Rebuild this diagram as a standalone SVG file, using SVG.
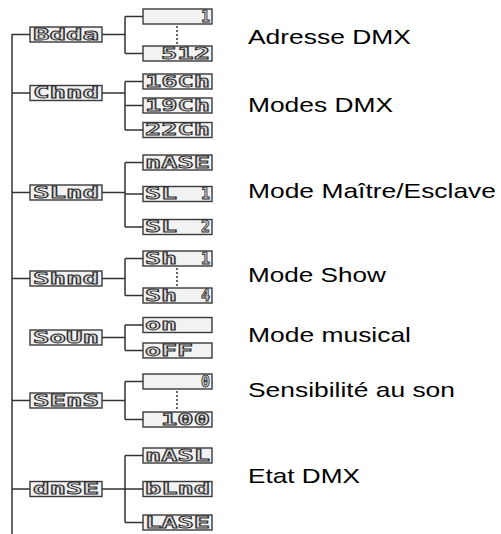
<svg xmlns="http://www.w3.org/2000/svg" width="501" height="534" viewBox="0 0 501 534">
<style>
.box{fill:#f2f2f2;stroke:#3a3a3a;stroke-width:1.4}
.lcd{font-family:"DejaVu Sans Mono",monospace;font-weight:bold;font-size:15px;fill:#dadada;stroke:#2e2e2e;stroke-width:0.85}
.ln{fill:none;stroke:#333;stroke-width:1.5}
.dot{fill:none;stroke:#333;stroke-width:1.5;stroke-dasharray:2 2}
.lbl{font-family:"Liberation Sans",Arial,sans-serif;font-size:21px;fill:#000}
</style>
<rect width="501" height="534" fill="#fff"/>
<g id="connectors">
<path class="ln" d="M12,34 V534"/>
<path class="ln" d="M12,34.5 H30 M12,93 H30 M12,192.5 H30 M12,278.5 H30 M12,400.5 H30 M12,489 H30"/>
<path class="ln" d="M102,34.5 H125 M125,16.5 V53.5 M125,16.5 H143 M125,53.5 H143"/>
<path class="ln" d="M102,93 H125 M125,81.5 V130 M125,81.5 H143 M125,105.5 H143 M125,130 H143"/>
<path class="ln" d="M102,192.5 H125 M125,162.5 V227 M125,162.5 H143 M125,194 H143 M125,227 H143"/>
<path class="ln" d="M102,278.5 H125 M125,258.5 V295.5 M125,258.5 H143 M125,295.5 H143"/>
<path class="ln" d="M102,337.5 H125 M125,325 V350.5 M125,325 H143 M125,350.5 H143"/>
<path class="ln" d="M102,400.5 H125 M125,381.5 V419.5 M125,381.5 H143 M125,419.5 H143"/>
<path class="ln" d="M102,489 H125 M125,455.5 V522.5 M125,455.5 H143 M125,489 H143 M125,522.5 H143"/>
<path class="dot" d="M177,26 V44 M177,268 V287 M177,391 V411"/>
</g>
<g id="addr"><rect class="box" x="30" y="27" width="72" height="15"/><text class="lcd" x="33" y="39.5" textLength="66" lengthAdjust="spacingAndGlyphs">Bdda</text></g>
<g id="chnd"><rect class="box" x="30" y="85.5" width="72" height="15"/><text class="lcd" x="33" y="98" textLength="66" lengthAdjust="spacingAndGlyphs">Chnd</text></g>
<g id="slnd"><rect class="box" x="30" y="185" width="72" height="15"/><text class="lcd" x="33" y="197.5" textLength="66" lengthAdjust="spacingAndGlyphs">SLnd</text></g>
<g id="shnd"><rect class="box" x="30" y="271" width="72" height="15"/><text class="lcd" x="33" y="283.5" textLength="66" lengthAdjust="spacingAndGlyphs">Shnd</text></g>
<g id="soun"><rect class="box" x="30" y="330" width="72" height="15"/><text class="lcd" x="33" y="342.5" textLength="66" lengthAdjust="spacingAndGlyphs">SoUn</text></g>
<g id="sens"><rect class="box" x="30" y="393" width="72" height="15"/><text class="lcd" x="33" y="405.5" textLength="66" lengthAdjust="spacingAndGlyphs">SEnS</text></g>
<g id="dnse"><rect class="box" x="30" y="481.5" width="72" height="15"/><text class="lcd" x="33" y="494" textLength="66" lengthAdjust="spacingAndGlyphs">dnSE</text></g>

<g id="a1"><rect class="box" x="143" y="9" width="69" height="15"/><text class="lcd" x="210" y="21.5" text-anchor="end">1</text></g>
<g id="a512"><rect class="box" x="143" y="46" width="69" height="15"/><text class="lcd" x="161" y="58.5" textLength="49" lengthAdjust="spacingAndGlyphs">512</text></g>
<g id="c16"><rect class="box" x="143" y="74" width="69" height="15"/><text class="lcd" x="145" y="86.5" textLength="65" lengthAdjust="spacingAndGlyphs">16Ch</text></g>
<g id="c19"><rect class="box" x="143" y="98" width="69" height="15"/><text class="lcd" x="145" y="110.5" textLength="65" lengthAdjust="spacingAndGlyphs">19Ch</text></g>
<g id="c22"><rect class="box" x="143" y="122.5" width="69" height="15"/><text class="lcd" x="145" y="135" textLength="65" lengthAdjust="spacingAndGlyphs">22Ch</text></g>
<g id="nase"><rect class="box" x="143" y="155" width="69" height="15"/><text class="lcd" x="145" y="167.5" textLength="65" lengthAdjust="spacingAndGlyphs">nASE</text></g>
<g id="sl1"><rect class="box" x="143" y="186.5" width="69" height="15"/><text class="lcd" x="145" y="199" textLength="32" lengthAdjust="spacingAndGlyphs">SL</text><text class="lcd" x="210" y="199" text-anchor="end">1</text></g>
<g id="sl2"><rect class="box" x="143" y="219.5" width="69" height="15"/><text class="lcd" x="145" y="232" textLength="32" lengthAdjust="spacingAndGlyphs">SL</text><text class="lcd" x="210" y="232" text-anchor="end">2</text></g>
<g id="sh1"><rect class="box" x="143" y="251" width="69" height="15"/><text class="lcd" x="145" y="263.5" textLength="32" lengthAdjust="spacingAndGlyphs">Sh</text><text class="lcd" x="210" y="263.5" text-anchor="end">1</text></g>
<g id="sh4"><rect class="box" x="143" y="288" width="69" height="15"/><text class="lcd" x="145" y="300.5" textLength="32" lengthAdjust="spacingAndGlyphs">Sh</text><text class="lcd" x="210" y="300.5" text-anchor="end">4</text></g>
<g id="on"><rect class="box" x="143" y="317.5" width="69" height="15"/><text class="lcd" x="145" y="330" textLength="32" lengthAdjust="spacingAndGlyphs">on</text></g>
<g id="off"><rect class="box" x="143" y="343" width="69" height="15"/><text class="lcd" x="145" y="355.5" textLength="48" lengthAdjust="spacingAndGlyphs">oFF</text></g>
<g id="s0"><rect class="box" x="143" y="374" width="69" height="15"/><text class="lcd" x="210" y="386.5" text-anchor="end">0</text></g>
<g id="s100"><rect class="box" x="143" y="412" width="69" height="15"/><text class="lcd" x="161" y="424.5" textLength="49" lengthAdjust="spacingAndGlyphs">100</text></g>
<g id="nasl"><rect class="box" x="143" y="448" width="69" height="15"/><text class="lcd" x="145" y="460.5" textLength="65" lengthAdjust="spacingAndGlyphs">nASL</text></g>
<g id="blnd"><rect class="box" x="143" y="481.5" width="69" height="15"/><text class="lcd" x="145" y="494" textLength="65" lengthAdjust="spacingAndGlyphs">bLnd</text></g>
<g id="lase"><rect class="box" x="143" y="515" width="69" height="15"/><text class="lcd" x="145" y="527.5" textLength="65" lengthAdjust="spacingAndGlyphs">LASE</text></g>

<g id="labels">
<text class="lbl" x="248" y="44" textLength="163" lengthAdjust="spacingAndGlyphs">Adresse DMX</text>
<text class="lbl" x="248" y="112" textLength="145" lengthAdjust="spacingAndGlyphs">Modes DMX</text>
<text class="lbl" x="248" y="198" textLength="248" lengthAdjust="spacingAndGlyphs">Mode Maître/Esclave</text>
<text class="lbl" x="248" y="282" textLength="138" lengthAdjust="spacingAndGlyphs">Mode Show</text>
<text class="lbl" x="248" y="342" textLength="163" lengthAdjust="spacingAndGlyphs">Mode musical</text>
<text class="lbl" x="248" y="397" textLength="207" lengthAdjust="spacingAndGlyphs">Sensibilité au son</text>
<text class="lbl" x="248" y="483" textLength="112" lengthAdjust="spacingAndGlyphs">Etat DMX</text>
</g>
</svg>
